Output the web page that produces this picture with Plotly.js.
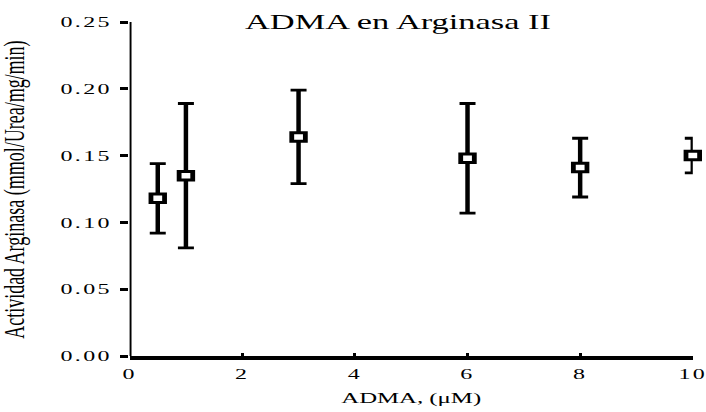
<!DOCTYPE html>
<html>
<head>
<meta charset="utf-8">
<script src="https://cdn.plot.ly/plotly-3.0.1.min.js"></script>
<style>
  html, body { margin: 0; padding: 0; background: #fff; overflow: hidden; }
  /* The figure is drawn on a narrow canvas and widened horizontally,
     which gives the wide glyphs and flat rectangular markers. */
  #chart { width: 441.25px; height: 412px; transform: scaleX(1.6); transform-origin: 0 0; }
  /* loosely spaced tick numerals */
  #chart .xtick text, #chart .ytick text { letter-spacing: 1.5px; }
</style>
</head>
<body>
<div id="chart"></div>
<script>
// ADMA concentration (µM)
const admaConc = [0.5, 1, 3, 6, 8, 10];
// Arginase activity (mmol/Urea/mg/min), mean
const actividad = [0.118, 0.135, 0.164, 0.148, 0.141, 0.150];
// Error (symmetric)
const errorAct = [0.026, 0.054, 0.035, 0.041, 0.022, 0.013];
const xTicks = [0, 2, 4, 6, 8, 10];
const yTicks = [0.00, 0.05, 0.10, 0.15, 0.20, 0.25];

const serif = 'Liberation Serif, Times New Roman, serif';

const trace = {
  x: admaConc,
  y: actividad,
  type: 'scatter',
  mode: 'markers',
  cliponaxis: false,
  marker: {
    symbol: 'square',
    size: 8.5,
    color: '#ffffff',
    line: { color: '#000000', width: 3 }
  },
  error_y: {
    type: 'data',
    array: errorAct,
    visible: true,
    color: '#000000',
    thickness: 2.8,
    width: 5
  },
  showlegend: false,
  hoverinfo: 'skip'
};

const layout = {
  width: 441.25,
  height: 412,
  margin: { l: 81, r: 7.5, t: 22, b: 56 },
  paper_bgcolor: '#ffffff',
  plot_bgcolor: '#ffffff',
  title: {
    text: 'ADMA en Arginasa II',
    font: { family: serif, size: 21.5, color: '#000' },
    xref: 'container', x: 0.5637, xanchor: 'center',
    yref: 'container', y: 0.947, yanchor: 'middle'
  },
  xaxis: {
    range: [0, 10],
    tickvals: xTicks,
    ticktext: xTicks.map(String),
    ticks: 'inside',
    ticklen: 3,
    tickwidth: 2,
    tickcolor: '#000',
    showline: true,
    linecolor: '#000',
    linewidth: 3.5,
    showgrid: false,
    zeroline: false,
    ticklabelstandoff: 2,
    tickfont: { family: serif, size: 15, color: '#000' },
    title: {
      text: 'ADMA, (μM)',
      font: { family: serif, size: 15.5, color: '#000' },
      standoff: 11
    }
  },
  yaxis: {
    range: [0, 0.25],
    tickvals: yTicks,
    ticktext: yTicks.map(v => v.toFixed(2)),
    ticks: 'outside',
    ticklen: 5,
    tickwidth: 3,
    tickcolor: '#000',
    showline: false,
    showgrid: false,
    zeroline: false,
    ticklabelstandoff: 2,
    tickfont: { family: serif, size: 15, color: '#000' }
  },
  shapes: [{
    // vertical axis spine, centred on x = 0
    type: 'line', layer: 'below',
    xref: 'x', x0: 0, x1: 0,
    yref: 'paper', y0: 0, y1: 1,
    line: { color: '#000', width: 2.4 }
  }],
  annotations: [{
    // y-axis title, placed by hand at the far left edge
    text: 'Actividad Arginasa (mmol/Urea/mg/min)',
    font: { family: serif, size: 18, color: '#000' },
    textangle: -90,
    xref: 'paper', x: -0.2048, xanchor: 'center',
    yref: 'paper', y: 0.5, yanchor: 'middle',
    showarrow: false
  }]
};

Plotly.newPlot('chart', [trace], layout, { displayModeBar: false, staticPlot: true });
</script>
</body>
</html>
